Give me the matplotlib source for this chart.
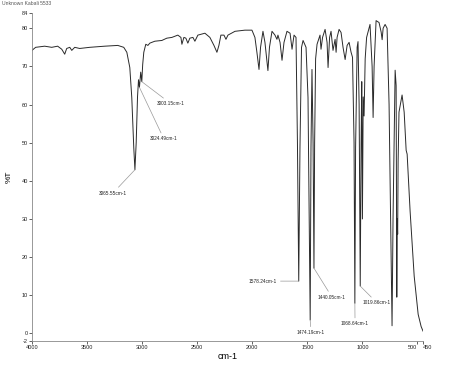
import matplotlib
matplotlib.use("Agg")
import matplotlib.pyplot as plt

# IR spectrum: wavenumber (cm-1) and %T
wavenumber = [
    4000, 3967, 3885, 3821, 3767, 3730, 3703, 3685, 3657, 3639, 3612, 3567,
    3476, 3339, 3221, 3167, 3139, 3112, 3094, 3076, 3065.55, 3054, 3042, 3033,
    3024.49, 3013, 3003.15, 2995, 2985, 2967, 2948, 2930, 2885, 2821, 2776,
    2730, 2676, 2648, 2639, 2621, 2603, 2585, 2567, 2539, 2521, 2494, 2430,
    2385, 2348, 2321, 2303, 2285, 2257, 2239, 2221, 2157, 2067, 2003, 1976,
    1958, 1939, 1925, 1903, 1885, 1858, 1844, 1821, 1794, 1776, 1767, 1748,
    1730, 1712, 1685, 1657, 1639, 1621, 1603, 1590, 1578.24, 1567, 1553, 1539,
    1512, 1494, 1474.19, 1467, 1458, 1448, 1440.05, 1434, 1425, 1412, 1385,
    1376, 1362, 1339, 1321, 1312, 1298, 1285, 1267, 1248, 1239, 1230, 1212,
    1194, 1176, 1157, 1139, 1121, 1103, 1090, 1076, 1068.64, 1062, 1048, 1040,
    1030, 1019.86, 1012, 1006, 1000, 993, 985, 975, 962, 931, 912, 903, 894,
    876, 849, 830, 821, 812, 794, 776, 758, 740, 731, 722, 703, 694, 688, 684,
    680, 676, 668, 640, 621, 603, 594, 567, 530, 494, 467, 450,
]
transmittance = [
    74.2, 75.0, 75.3, 75.0, 75.3, 74.5, 73.2, 74.7, 75.0, 74.2, 75.0, 74.7,
    75.0, 75.3, 75.5, 75.0, 73.7, 69.7, 61.8, 48.7, 42.9, 50.0, 62.0, 66.5,
    64.5, 68.5, 66.0, 70.5, 73.7, 75.8, 75.5, 76.1, 76.6, 76.8, 77.4,
    77.6, 78.2, 77.6, 75.8, 77.6, 77.4, 76.1, 77.4, 77.6, 76.6, 78.2, 78.7,
    77.6, 75.5, 73.7, 75.5, 78.2, 78.2, 77.1, 78.2, 79.2, 79.5, 79.5, 77.6,
    73.7, 69.2, 75.0, 79.2, 76.3, 68.9, 75.0, 79.2, 78.2, 77.1, 78.2, 76.3,
    71.6, 76.3, 79.2, 78.7, 74.5, 78.2, 77.6, 50.0, 13.7, 48.7, 75.0, 76.8,
    75.0, 61.8, 3.5, 48.7, 69.2, 50.0, 17.1, 50.0, 72.0, 75.8, 78.2,
    74.5, 77.6, 79.7, 76.3, 69.7, 77.6, 79.2, 74.2, 77.1, 73.7, 77.6, 79.7,
    78.9, 75.0, 71.8, 75.5, 76.3, 73.7, 72.4, 50.0, 7.9, 48.7, 75.0, 76.5,
    60.0, 12.4, 50.0, 66.0, 30.0, 62.0, 57.0, 72.0, 77.6, 81.0, 70.0, 56.6, 70.0,
    82.0, 81.5, 79.0, 77.0, 80.0, 81.0, 80.0, 60.0, 20.0, 2.0, 30.0, 69.0, 65.0, 9.5, 30.0,
    26.0, 45.0, 58.0, 62.5, 58.0, 48.0, 47.0, 32.0, 15.0, 5.0, 1.8, 0.6,
]

# labelled peaks: position, %T at the peak, where the text sits
peak_wn = [3065.55, 3003.15, 3024.49, 1578.24, 1440.05, 1474.19, 1068.64, 1019.86]
peak_t = [42.9, 66.0, 64.5, 13.7, 17.1, 3.5, 7.9, 12.4]
text_wn = [3137, 2865, 2929, 1775, 1403, 1467, 1067, 995]
text_t = [36.8, 60.2, 51.0, 13.7, 9.5, 0.2, 2.5, 8.0]
text_ha = ['right', 'left', 'left', 'right', 'left', 'center', 'center', 'left']

x_ticks = [4000, 3500, 3000, 2500, 2000, 1500, 1000, 500, 450]
y_ticks = [-2, 0, 10, 20, 30, 40, 50, 60, 70, 80, 84]

plt.rcParams['font.family'] = ['Liberation Sans', 'DejaVu Sans']

fig = plt.figure(figsize=(4.74, 3.66), dpi=100)
ax = fig.add_axes([32 / 474, 25 / 366, 391 / 474, 328 / 366])

ax.plot(wavenumber, transmittance, color='#2a2a2a', linewidth=0.7)

for w, t, tw, tt, ha in zip(peak_wn, peak_t, text_wn, text_t, text_ha):
    ax.annotate('{:.2f}cm-1'.format(w), xy=(w, t), xytext=(tw, tt),
                ha=ha, va='center', fontsize=3.4, color='#222222',
                arrowprops=dict(arrowstyle='-', color='#999999', linewidth=0.5,
                                shrinkA=0.5, shrinkB=0))

ax.set_xlim(4000, 450)
ax.set_ylim(-2, 84)
ax.set_xticks(x_ticks)
ax.set_xticklabels([str(v) for v in x_ticks])
ax.set_yticks(y_ticks)
ax.set_yticklabels([str(v) for v in y_ticks])
ax.tick_params(labelsize=4, length=2, width=0.5, pad=1, colors='#222222')

# 500 and 450 sit side by side, as "500450" in the original
xlabels = ax.get_xticklabels()
xlabels[-2].set_ha('right')
xlabels[-1].set_ha('left')
xlabels[-1].set_x(0)

ax.spines['top'].set_visible(False)
ax.spines['right'].set_visible(False)
ax.spines['left'].set_linewidth(0.6)
ax.spines['bottom'].set_linewidth(0.6)
ax.spines['left'].set_color('#888888')
ax.spines['bottom'].set_color('#888888')

ax.set_xlabel('cm-1', fontsize=6.5, labelpad=1)
ax.set_ylabel('%T', fontsize=6, labelpad=6)

fig.text(2 / 474, 1 - 1 / 366, 'Unknown Kabali 5533', fontsize=3.6,
         color='#555555', ha='left', va='top')

fig.savefig('out.png', dpi=100)
